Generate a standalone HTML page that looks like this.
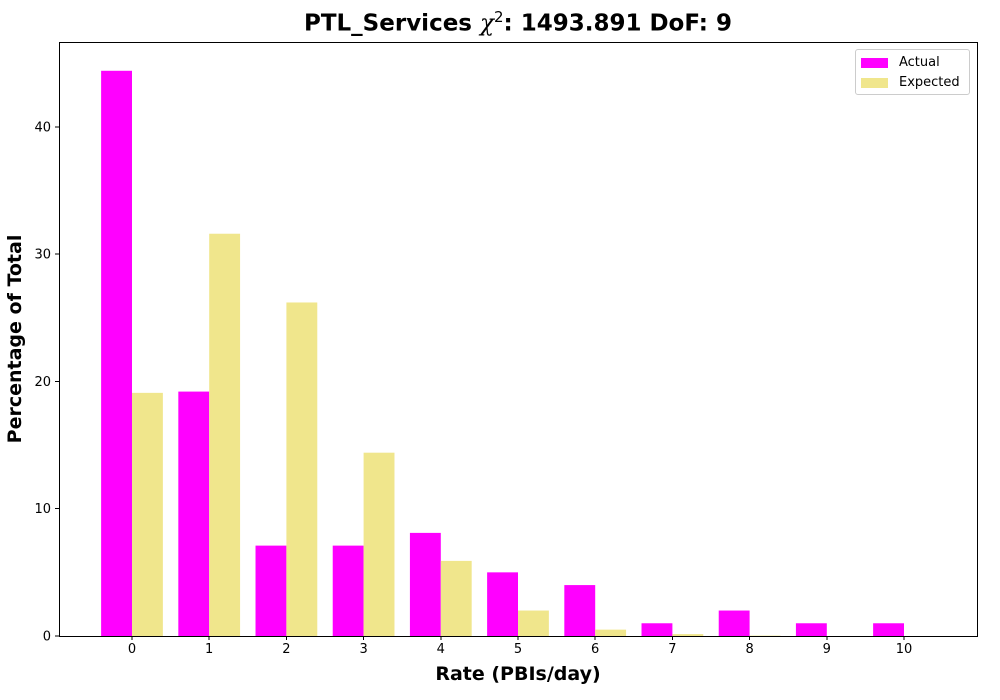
<!DOCTYPE html>
<html><head><meta charset="utf-8"><style>
body{margin:0;background:#fff;}
svg{display:block;font-family:"DejaVu Sans","Liberation Sans",sans-serif;}
</style></head><body>
<svg id="chart" width="1000" height="700"></svg>
<script>
const categories=[0,1,2,3,4,5,6,7,8,9,10];
const actualValues=[44.4,19.2,7.1,7.1,8.1,5.0,4.0,1.0,2.0,1.0,1.0];
const expectedValues=[19.1,31.6,26.2,14.4,5.9,2.0,0.5,0.15,0.03,0,0];
const yTicks=[0,10,20,30,40];
const svg=document.getElementById('chart');
const NS='http://www.w3.org/2000/svg';
const L=59,R=977,T=42,B=636;
const xS=v=>132+v*77.2;
const yS=v=>B-v*12.73;
function mk(tag,attrs,parent){const e=document.createElementNS(NS,tag);for(const k in attrs)e.setAttribute(k,attrs[k]);(parent||svg).appendChild(e);return e;}
const bw=0.4*77.2;
categories.forEach((c,i)=>{
  const a=mk('rect',{x:xS(c)-bw,y:yS(actualValues[i]),width:bw,height:B-yS(actualValues[i]),fill:'#ff00ff'});
  
  
  const e=mk('rect',{x:xS(c),y:yS(expectedValues[i]),width:bw,height:B-yS(expectedValues[i]),fill:'#f0e68c'});
  
  
  mk('line',{x1:xS(c),x2:xS(c),y1:B,y2:B+4,stroke:'#000','stroke-width':1,'shape-rendering':'crispEdges'});
  const t=mk('text',{x:xS(c),y:B+17,'font-size':13,'text-anchor':'middle'});
  t.textContent=c;
  
  
});
yTicks.forEach(v=>{
  mk('line',{x1:L-4,x2:L,y1:yS(v),y2:yS(v),stroke:'#000','stroke-width':1,'shape-rendering':'crispEdges'});
  const t=mk('text',{x:L-8,y:yS(v)+4.5,'font-size':13,'text-anchor':'end'});
  t.textContent=v;
  
  
});
const f=mk('rect',{x:L+0.5,y:T+0.5,width:R-L,height:B-T,fill:'none',stroke:'#000','stroke-width':1,'shape-rendering':'crispEdges'});


</script>
<div style="position:absolute;left:0;top:0;width:1000px;height:700px;pointer-events:none;font-family:'DejaVu Sans','Liberation Sans',sans-serif;">
<div style="position:absolute;left:0;width:1036px;top:8px;text-align:center;font-size:23px;font-weight:bold;">PTL_Services <i style="font-family:'DejaVu Serif',serif;font-weight:normal">χ</i><sup style="font-size:15px;font-weight:normal">2</sup>: 1493.891 DoF: 9</div>
<div style="position:absolute;left:0;width:1036px;top:663px;text-align:center;font-size:19px;font-weight:bold;">Rate (PBIs/day)</div>
<div style="position:absolute;left:15px;top:339px;font-size:19px;font-weight:bold;transform:translate(-50%,-50%) rotate(-90deg);white-space:nowrap;">Percentage of Total</div>
<div style="position:absolute;left:855px;top:49px;width:113px;height:44px;border:1px solid #ccc;border-radius:3px;background:#fff;font-size:13px;">
<div style="position:absolute;left:5px;top:5px;"><span style="display:inline-block;width:27px;height:10px;background:#ff00ff;vertical-align:middle;margin-right:11px"></span>Actual</div>
<div style="position:absolute;left:5px;top:25px;"><span style="display:inline-block;width:27px;height:10px;background:#f0e68c;vertical-align:middle;margin-right:11px"></span>Expected</div>
</div>
</div>
</body></html>
